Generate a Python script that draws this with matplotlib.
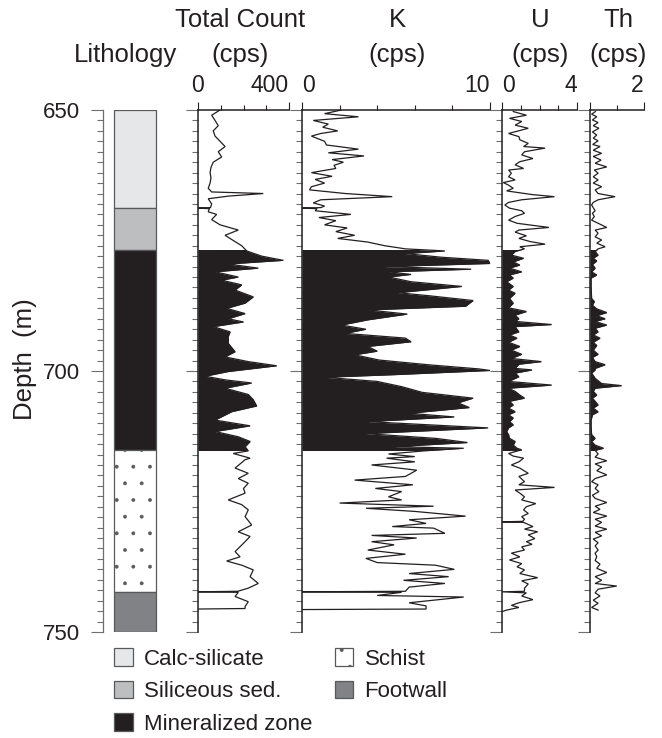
import numpy as np
import matplotlib
matplotlib.use("Agg")
import matplotlib.pyplot as plt
from matplotlib.patches import Patch, Rectangle
from matplotlib.ticker import MultipleLocator

plt.rcParams["font.family"] = ["Liberation Sans", "DejaVu Sans"]
plt.rcParams["hatch.linewidth"] = 0.3
plt.rcParams["hatch.color"] = "#231f20"

W, H = 662, 738
INK = "#231f20"
EDGE = "#58595b"

# lithology column (depth in m)
LITH_NAMES = ["Calc-silicate", "Siliceous sed.", "Mineralized zone", "Schist", "Footwall"]
LITH_TOP = [650.0, 668.8, 676.8, 715.1, 742.3]
LITH_BASE = [668.8, 676.8, 715.1, 742.3, 750.0]
LITH_COLORS = ["#e6e7e8", "#bcbec0", "#231f20", "#ffffff", "#808285"]
LITH_HATCH = [None, None, None, ".", None]
MIN_TOP, MIN_BASE = 676.8, 715.1

# total count log
tc_depth = [650.0, 651.0, 652.0, 653.0, 654.0, 655.0, 656.0, 657.0, 658.0, 659.0,
            660.0, 661.0, 662.0, 663.0, 664.0, 665.0, 665.7, 666.0, 666.5, 667.0,
            668.0, 668.7, 668.8, 668.9, 669.5, 670.0, 671.0, 672.0, 673.0, 674.0,
            675.0, 676.0, 677.0, 678.0, 678.8, 679.5, 680.3, 681.0, 682.0, 682.6,
            683.5, 684.5, 685.8, 687.0, 688.0, 689.0, 690.0, 690.6, 691.5, 692.5,
            693.4, 694.7, 696.3, 697.3, 698.2, 699.0, 700.1, 701.0, 701.7, 702.3,
            703.3, 704.5, 705.5, 706.7, 707.8, 709.4, 710.5, 711.6, 712.6, 713.5,
            714.5, 715.3, 715.8, 716.7, 717.0, 718.6, 719.6, 720.6, 721.5, 722.5,
            723.4, 724.7, 725.6, 726.6, 727.9, 729.5, 730.8, 731.7, 733.0, 734.6,
            735.6, 736.4, 737.2, 738.1, 739.4, 740.7, 741.6, 742.2, 742.3, 742.4,
            743.2, 744.2, 745.1, 745.5, 745.6]
tc_cps = [97, 60, 75, 89, 67, 75, 97, 119, 89, 104,
          67, 57, 53, 57, 53, 45, 60, 287, 133, 45,
          60, 55, 0, 50, 45, 82, 60, 97, 177, 119,
          155, 192, 214, 280, 375, 133, 265, 75, 177, 104,
          192, 163, 243, 207, 126, 207, 133, 200, 67, 141,
          133, 133, 163, 119, 221, 346, 133, 31, 119, 236,
          119, 221, 243, 258, 148, 75, 229, 75, 177, 229,
          207, 221, 155, 229, 207, 163, 221, 177, 221, 200,
          207, 133, 192, 221, 207, 236, 177, 229, 200, 163,
          185, 126, 192, 243, 229, 265, 221, 175, 0, 177,
          163, 221, 207, 207, 0]

# potassium log
k_depth = [650.0, 650.7, 651.3, 652.0, 652.7, 653.3, 654.0, 654.5, 655.0, 656.0,
           656.7, 657.5, 658.2, 658.8, 659.5, 660.0, 660.6, 661.2, 662.0, 662.7,
           663.3, 664.0, 664.7, 665.3, 666.0, 666.6, 667.2, 667.8, 668.4, 668.7,
           668.8, 668.9, 669.3, 670.0, 670.6, 671.2, 672.0, 672.6, 673.3, 674.0,
           674.6, 675.3, 676.0, 676.6, 677.0, 677.5, 678.2, 678.8, 679.4, 680.0,
           680.5, 681.0, 681.5, 682.0, 682.9, 683.8, 685.0, 685.6, 686.5, 687.6,
           688.3, 689.1, 690.2, 691.2, 692.0, 692.8, 693.7, 694.4, 695.3, 696.2,
           696.9, 697.9, 698.8, 699.6, 699.9, 700.7, 701.2, 702.0, 703.0, 704.1,
           705.2, 706.1, 707.0, 708.1, 708.8, 709.7, 710.9, 712.0, 712.9, 713.7,
           714.5, 714.8, 715.3, 715.9, 716.4, 716.7, 717.4, 718.0, 719.0, 720.2,
           720.9, 721.8, 722.5, 723.1, 724.1, 724.7, 725.3, 725.9, 726.3, 726.9,
           727.8, 728.5, 729.2, 729.8, 730.1, 731.1, 731.5, 732.0, 732.7, 733.3,
           734.3, 735.1, 735.9, 736.7, 737.2, 738.0, 738.8, 739.4, 740.1, 740.7,
           741.4, 742.2, 742.3, 742.4, 743.0, 743.3, 744.4, 745.0, 745.6, 745.7]
k_cps = [2.1, 1.2, 3.0, 0.6, 1.4, 1.1, 1.9, 1.0, 0.5, 1.2,
         1.3, 3.0, 1.4, 3.3, 1.6, 2.2, 1.7, 1.8, 0.5, 1.6,
         0.7, 1.2, 0.5, 0.4, 2.3, 4.8, 1.0, 0.6, 1.2, 1.0,
         0.0, 0.8, 0.7, 2.6, 0.9, 1.8, 1.2, 2.4, 1.8, 2.8,
         1.9, 3.5, 4.4, 5.5, 7.6, 5.5, 7.4, 9.9, 10.0, 4.4,
         9.0, 4.6, 5.8, 4.6, 5.8, 8.5, 5.1, 6.8, 9.1, 8.7,
         3.5, 5.6, 3.5, 2.1, 3.4, 2.3, 5.5, 5.8, 3.5, 4.0,
         2.8, 4.1, 6.7, 9.4, 10.0, 4.9, 1.2, 4.0, 5.3, 6.4,
         9.1, 8.3, 8.9, 5.7, 8.1, 3.5, 9.9, 3.4, 7.1, 8.8,
         4.9, 8.6, 6.5, 4.6, 6.0, 4.5, 6.0, 3.7, 6.1, 5.5,
         2.8, 5.9, 3.9, 5.3, 4.6, 5.3, 2.0, 7.0, 3.4, 6.0,
         8.7, 5.7, 6.6, 4.8, 7.0, 7.6, 3.7, 6.1, 3.7, 4.9,
         3.5, 5.5, 3.4, 4.0, 7.1, 8.1, 5.7, 7.8, 5.4, 7.6,
         5.7, 5.5, 0.0, 5.3, 4.0, 8.6, 5.7, 6.6, 6.6, 0.0]

# uranium log
u_depth = [650.3, 651.0, 651.6, 652.2, 652.9, 653.5, 654.5, 655.1, 655.7, 656.4,
           657.0, 657.3, 658.0, 658.6, 659.3, 659.9, 660.5, 661.2, 661.5, 662.1,
           662.8, 663.4, 663.9, 664.4, 665.0, 665.5, 666.2, 666.6, 667.2, 667.7,
           668.2, 668.8, 669.3, 669.8, 670.4, 671.1, 671.7, 672.5, 673.0, 673.4,
           674.1, 674.6, 675.2, 675.7, 676.2, 676.6, 677.1, 677.8, 678.4, 679.1,
           679.7, 680.3, 681.0, 681.6, 682.2, 682.9, 683.8, 684.5, 685.1, 686.1,
           687.0, 687.9, 688.6, 689.3, 690.0, 690.5, 691.1, 691.5, 692.5, 693.1,
           693.7, 694.5, 695.3, 696.0, 696.8, 697.6, 698.2, 698.7, 699.5, 699.8,
           700.4, 701.1, 702.0, 702.7, 703.3, 703.9, 704.6, 705.2, 705.8, 706.5,
           707.1, 707.8, 708.4, 709.0, 709.7, 710.3, 710.9, 711.6, 712.2, 712.9,
           713.5, 714.2, 714.8, 715.1, 715.8, 716.3, 716.7, 717.4, 718.0, 718.6,
           719.6, 720.2, 721.2, 721.8, 722.3, 722.8, 723.4, 724.1, 724.7, 725.4,
           726.0, 726.6, 727.3, 727.9, 728.4, 728.8, 728.9, 729.0, 729.8, 730.3,
           730.8, 731.4, 732.1, 732.7, 733.2, 733.7, 734.3, 734.9, 735.6, 736.2,
           736.9, 737.5, 738.1, 738.8, 739.6, 740.2, 740.8, 741.6, 742.2, 742.3,
           742.5, 743.1, 743.8, 744.4, 744.9, 745.3, 745.8, 746.1]
u_cps = [0.6, 1.3, 0.4, 1.05, 0.7, 1.4, 0.35, 0.9, 0.95, 1.4,
         1.15, 2.3, 1.2, 1.05, 1.65, 0.95, 0.7, 1.15, 0.35, 0.5,
         0.35, 0.7, 0.07, 0.35, 0.6, 0.25, 1.6, 2.8, 1.05, 0.35,
         0.15, 0.4, 1.05, 1.2, 0.7, 0.35, 0.8, 2.5, 0.9, 0.7,
         1.3, 0.9, 1.5, 2.3, 0.95, 1.2, 0.7, 0.5, 1.15, 0.6,
         0.95, 0.4, 1.05, 0.4, 0.6, 0.25, 0.6, 0.35, 0.7, 0.4,
         0.6, 0.35, 1.3, 0.7, 0.9, 0.7, 2.65, 0.7, 0.9, 0.4,
         0.8, 0.35, 0.95, 0.5, 1.05, 0.5, 2.1, 0.9, 0.7, 1.6,
         0.7, 0.9, 0.35, 2.65, 0.35, 0.7, 0.95, 1.2, 0.4, 0.6,
         0.35, 0.7, 0.35, 0.6, 0.4, 0.6, 0.35, 0.25, 0.35, 0.4,
         0.7, 0.6, 0.8, 1.05, 0.35, 0.6, 1.15, 0.9, 0.5, 0.95,
         1.4, 0.9, 1.2, 0.9, 2.8, 0.7, 0.95, 1.2, 1.05, 1.8,
         1.3, 1.15, 1.4, 1.05, 1.2, 1.1, 0.0, 1.15, 1.65, 1.2,
         1.9, 1.4, 1.75, 1.3, 1.6, 1.05, 1.2, 0.5, 0.95, 0.4,
         1.05, 0.8, 1.2, 0.95, 1.9, 1.05, 1.4, 1.2, 1.2, 0.0,
         1.3, 1.05, 1.65, 0.9, 0.5, 0.9, 0.25, 0.0]

# thorium log
th_depth = [650.3, 650.8, 651.3, 651.9, 652.4, 653.0, 653.5, 654.2, 654.8, 655.4,
            655.9, 656.6, 657.0, 657.7, 658.3, 658.9, 659.6, 660.2, 660.9, 661.5,
            662.1, 662.8, 663.4, 664.0, 664.7, 665.3, 666.0, 666.6, 667.2, 667.7,
            668.2, 668.7, 669.3, 669.8, 670.4, 671.1, 671.7, 672.5, 673.0, 673.6,
            674.3, 674.9, 675.5, 676.2, 676.6, 677.1, 677.8, 678.4, 678.9, 679.6,
            680.3, 681.0, 681.6, 682.2, 683.8, 686.1, 686.7, 687.4, 688.1, 688.8,
            689.4, 690.0, 690.5, 691.2, 691.8, 692.5, 693.1, 693.7, 694.5, 695.1,
            696.0, 696.8, 697.4, 698.2, 698.8, 699.5, 699.8, 700.4, 701.4, 702.4,
            702.8, 703.3, 703.9, 704.6, 705.2, 705.8, 706.5, 707.1, 707.8, 708.4,
            709.4, 710.7, 712.2, 712.9, 713.5, 714.2, 714.8, 715.2, 715.9, 716.5,
            717.2, 717.8, 718.4, 719.1, 719.9, 720.6, 721.2, 721.8, 722.5, 723.1,
            723.8, 724.4, 725.2, 725.9, 726.5, 727.1, 727.8, 728.4, 729.0, 729.7,
            730.3, 730.9, 731.6, 732.2, 732.9, 733.5, 734.3, 734.9, 735.6, 736.3,
            737.0, 737.8, 738.6, 739.4, 740.1, 740.7, 741.2, 741.8, 742.5, 743.1,
            743.9, 744.5, 745.3, 745.8]
th_cps = [0.2, 0.06, 0.25, 0.09, 0.3, 0.12, 0.33, 0.09, 0.25, 0.12,
          0.3, 0.1, 0.37, 0.12, 0.43, 0.12, 0.41, 0.19, 0.62, 0.16,
          0.3, 0.12, 0.3, 0.12, 0.43, 0.19, 0.3, 0.93, 0.3, 0.12,
          0.06, 0.12, 0.19, 0.09, 0.16, 0.06, 0.3, 0.62, 0.19, 0.3,
          0.19, 0.43, 0.25, 0.56, 0.3, 0.19, 0.3, 0.12, 0.25, 0.09,
          0.19, 0.06, 0.25, 0.04, 0.04, 0.06, 0.16, 0.09, 0.25, 0.62,
          0.25, 0.56, 0.19, 0.62, 0.19, 0.3, 0.12, 0.37, 0.12, 0.25,
          0.12, 0.3, 0.09, 0.19, 0.56, 0.19, 0.19, 0.06, 0.19, 0.43,
          1.17, 0.19, 0.12, 0.25, 0.09, 0.19, 0.3, 0.12, 0.3, 0.09,
          0.04, 0.04, 0.06, 0.19, 0.06, 0.19, 0.5, 0.19, 0.3, 0.19,
          0.62, 0.19, 0.43, 0.25, 0.62, 0.19, 0.06, 0.3, 0.19, 0.33,
          0.09, 0.19, 0.62, 0.19, 0.37, 0.12, 0.62, 0.19, 0.43, 0.19,
          0.62, 0.19, 0.43, 0.12, 0.3, 0.19, 0.3, 0.19, 0.25, 0.19,
          0.37, 0.25, 0.62, 0.19, 0.43, 0.19, 0.99, 0.3, 0.19, 0.37,
          0.12, 0.3, 0.06, 0.3]

# (header, depth, values, xmax, minor step, tick labels, "0" label alignment, left px, right px, header x)
PANELS = [
    (["Total Count", "(cps)"], tc_depth, tc_cps, 400, 100, ["0", "400"], "center", 198, 289, 240),
    (["K", "(cps)"], k_depth, k_cps, 10, 2, ["0", "10"], "left", 302, 490, 397),
    (["U", "(cps)"], u_depth, u_cps, 4, 1, ["0", "4"], "left", 502, 577, 540),
    (["Th", "(cps)"], th_depth, th_cps, 2, 1, ["", "2"], "left", 590, 644, 618),
]

TOP, BOT = 110, 632


def px_axes(fig, left, right):
    return fig.add_axes([left / W, 1 - BOT / H, (right - left) / W, (BOT - TOP) / H])


def depth_ticks(ax, labels):
    ax.set_ylim(750, 650)
    ax.yaxis.set_major_locator(MultipleLocator(50))
    ax.yaxis.set_minor_locator(MultipleLocator(2))
    ax.tick_params(axis="y", which="major", direction="out", length=8.5, width=0.8,
                   color="#6d6e71", labelsize=16, labelcolor=INK, pad=8, labelleft=labels)
    ax.tick_params(axis="y", which="minor", direction="out", length=4.2, width=0.8,
                   color="#6d6e71")
    for s in ["right", "bottom"]:
        ax.spines[s].set_visible(False)


fig = plt.figure(figsize=(W / 100, H / 100), dpi=100)

# lithology column + depth axis
ax = px_axes(fig, 103, 160)
depth_ticks(ax, True)
ax.spines["top"].set_visible(False)
ax.spines["left"].set_color("#6d6e71")
ax.spines["left"].set_linewidth(0.9)
ax.set_xlim(0, 57)
ax.set_xticks([])
for top, base, col, hat in zip(LITH_TOP, LITH_BASE, LITH_COLORS, LITH_HATCH):
    ax.bar(32, base - top, bottom=top, width=42, color=col, edgecolor=EDGE,
           linewidth=0.9, hatch=hat)
ax.patch.set_alpha(0)

# log panels
for title, d, v, xmax, step, tlabels, zalign, left, right, hx in PANELS:
    ax = px_axes(fig, left, right)
    depth_ticks(ax, False)
    ax.set_xlim(0, xmax)
    ax.xaxis.set_ticks_position("top")
    ax.set_xticks([0, xmax])
    ax.set_xticklabels(tlabels)
    ax.xaxis.set_minor_locator(MultipleLocator(step))
    ax.tick_params(axis="x", which="major", direction="out", length=5.5, width=0.8,
                   color=INK, labelsize=16.5, labelcolor=INK, pad=4)
    ax.tick_params(axis="x", which="minor", direction="out", length=3.5, width=0.8,
                   color=INK)
    lab0, lab1 = ax.get_xticklabels()
    lab0.set_horizontalalignment(zalign)
    lab1.set_horizontalalignment("right")
    for s in ["left", "top"]:
        ax.spines[s].set_color(INK)
        ax.spines[s].set_linewidth(1.1)
    ax.plot(v, d, color=INK, lw=0.9, solid_joinstyle="miter")
    fill = ax.fill_betweenx(d, 0, v, color=INK, lw=0)
    fill.set_clip_path(Rectangle((0, MIN_TOP), xmax, MIN_BASE - MIN_TOP,
                                 transform=ax.transData))
    fig.text(hx / W, 1 - 20 / H, title[0], ha="center", va="center",
             fontsize=18.5, color=INK)
    fig.text(hx / W, 1 - 55 / H, title[1], ha="center", va="center",
             fontsize=18.5, color=INK)

fig.text(125 / W, 1 - 55 / H, "Lithology", ha="center", va="center",
         fontsize=18.5, color=INK)
fig.text(25 / W, 1 - 359 / H, "Depth  (m)", rotation=90, ha="center", va="center",
         fontsize=18.5, color=INK)

handles = [Patch(facecolor=c, edgecolor=EDGE, hatch=h, lw=0.9)
           for c, h in zip(LITH_COLORS, LITH_HATCH)]
leg = fig.legend(handles, LITH_NAMES, ncol=2, loc="upper left",
                 bbox_to_anchor=(114 / W, 1 - 648 / H), frameon=False, fontsize=16,
                 handlelength=0.85, handleheight=0.85, handletextpad=0.5,
                 columnspacing=1.0, labelspacing=0.5, borderpad=0, borderaxespad=0)
for t in leg.get_texts():
    t.set_color(INK)

fig.savefig("out.png", dpi=100)
